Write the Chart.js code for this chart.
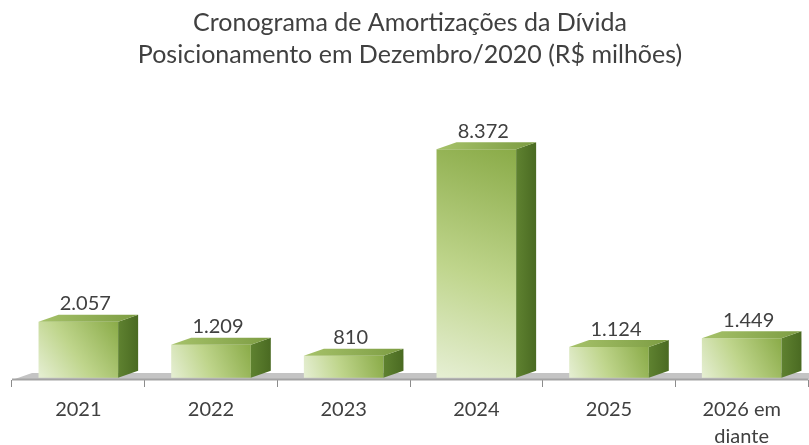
<!DOCTYPE html>
<html>
<head>
<meta charset="utf-8">
<script src="https://cdn.jsdelivr.net/npm/chart.js@4.4.0/dist/chart.umd.min.js"></script>
<style>
  html, body { margin: 0; padding: 0; background: #fff; }
  #wrap { width: 809px; height: 445px; }
</style>
</head>
<body>
<div id="wrap"><canvas id="grafico" width="809" height="445"></canvas></div>
<script>
const categorias = ['2021', '2022', '2023', '2024', '2025', ['2026 em', 'diante']];
const valores = [2057, 1209, 810, 8372, 1124, 1449];
const titulo = ['Cronograma de Amortizações da Dívida', 'Posicionamento em Dezembro/2020 (R$ milhões)'];

const fonte = "Lato, 'Open Sans', sans-serif";
const corTexto = '#404040';
const prof = { dx: 20, dy: -7 };
const fracBarra = 0.6;

function formatarBR(v) {
  return String(v).replace(/\B(?=(\d{3})+(?!\d))/g, '.');
}

// gradiente da face frontal de cada barra
function gradienteFrente(context) {
  const chart = context.chart;
  const sx = chart.scales.x, sy = chart.scales.y;
  if (!chart.chartArea || !sx || !sy) return '#a9c46c';
  const x = sx.getPixelForValue(context.dataIndex);
  const y = sy.getPixelForValue(valores[context.dataIndex]);
  const base = sy.getPixelForValue(0);
  const w = (sx.right - sx.left) / categorias.length * fracBarra;
  if (![x, y, base, w].every(Number.isFinite)) return '#a9c46c';
  const g = chart.ctx.createLinearGradient(x - w / 2, base, x + w / 2, y);
  g.addColorStop(0, '#e6efd4');
  g.addColorStop(0.45, '#bfd58c');
  g.addColorStop(1, '#8aab48');
  return g;
}

const barras3d = {
  id: 'barras3d',
  beforeDatasetsDraw(chart) {
    const { ctx, chartArea } = chart;
    const y0 = chartArea.bottom;
    ctx.save();
    // piso
    ctx.beginPath();
    ctx.moveTo(chartArea.left, y0);
    ctx.lineTo(chartArea.right, y0);
    ctx.lineTo(chartArea.right + prof.dx, y0 + prof.dy);
    ctx.lineTo(chartArea.left + prof.dx, y0 + prof.dy);
    ctx.closePath();
    ctx.fillStyle = '#c4c4c4';
    ctx.fill();
    ctx.fillStyle = '#a3a3a3';
    ctx.fillRect(chartArea.left, y0 - 1.5, chartArea.right - chartArea.left, 2);
    ctx.restore();
  },
  afterDatasetsDraw(chart) {
    const { ctx } = chart;
    const meta = chart.getDatasetMeta(0);
    ctx.save();
    meta.data.forEach((el, i) => {
      const p = el.getProps(['x', 'y', 'width', 'base'], true);
      const esq = p.x - p.width / 2, dir = p.x + p.width / 2;
      // lateral
      const gl = ctx.createLinearGradient(dir, 0, dir + prof.dx, 0);
      gl.addColorStop(0, '#5f8230');
      gl.addColorStop(1, '#4a6a22');
      ctx.beginPath();
      ctx.moveTo(dir, p.y);
      ctx.lineTo(dir + prof.dx, p.y + prof.dy);
      ctx.lineTo(dir + prof.dx, p.base + prof.dy);
      ctx.lineTo(dir, p.base);
      ctx.closePath();
      ctx.fillStyle = gl;
      ctx.fill();
      // topo
      const gt = ctx.createLinearGradient(esq, p.y, dir + prof.dx, p.y + prof.dy);
      gt.addColorStop(0, '#a6c26a');
      gt.addColorStop(1, '#7c9c42');
      ctx.beginPath();
      ctx.moveTo(esq, p.y);
      ctx.lineTo(esq + prof.dx, p.y + prof.dy);
      ctx.lineTo(dir + prof.dx, p.y + prof.dy);
      ctx.lineTo(dir, p.y);
      ctx.closePath();
      ctx.fillStyle = gt;
      ctx.fill();
      // rótulo
      ctx.fillStyle = corTexto;
      ctx.font = '20px ' + fonte;
      ctx.textAlign = 'center';
      ctx.textBaseline = 'middle';
      ctx.fillText(formatarBR(valores[i]), p.x + 7, p.y + prof.dy - 11);
    });
    ctx.restore();
  }
};

new Chart(document.getElementById('grafico'), {
  type: 'bar',
  data: {
    labels: categorias,
    datasets: [{
      data: valores,
      backgroundColor: gradienteFrente,
      borderWidth: 0,
      categoryPercentage: 1,
      barPercentage: fracBarra
    }]
  },
  options: {
    responsive: false,
    animation: false,
    layout: { padding: { left: 12, right: 1, top: 7, bottom: 0 } },
    plugins: {
      legend: { display: false },
      tooltip: { enabled: false },
      title: {
        display: true,
        text: titulo,
        color: corTexto,
        font: { family: fonte, size: 25, weight: 'normal', lineHeight: 1.28 },
        padding: { top: 0, bottom: 10 }
      }
    },
    scales: {
      x: {
        offset: true,
        border: { display: false },
        grid: { display: true, drawOnChartArea: false, drawTicks: true, tickLength: 7, color: '#8c8c8c', offset: true },
        ticks: { color: corTexto, font: { family: fonte, size: 20, lineHeight: 1.35 }, padding: 9, maxRotation: 0 },
        // eixo fica com 65px: a segunda linha do último rótulo é cortada como no original
        afterFit(scale) { scale.height = 65; }
      },
      y: {
        display: false,
        min: -80,
        max: 10870
      }
    }
  },
  plugins: [barras3d]
});
</script>
</body>
</html>
